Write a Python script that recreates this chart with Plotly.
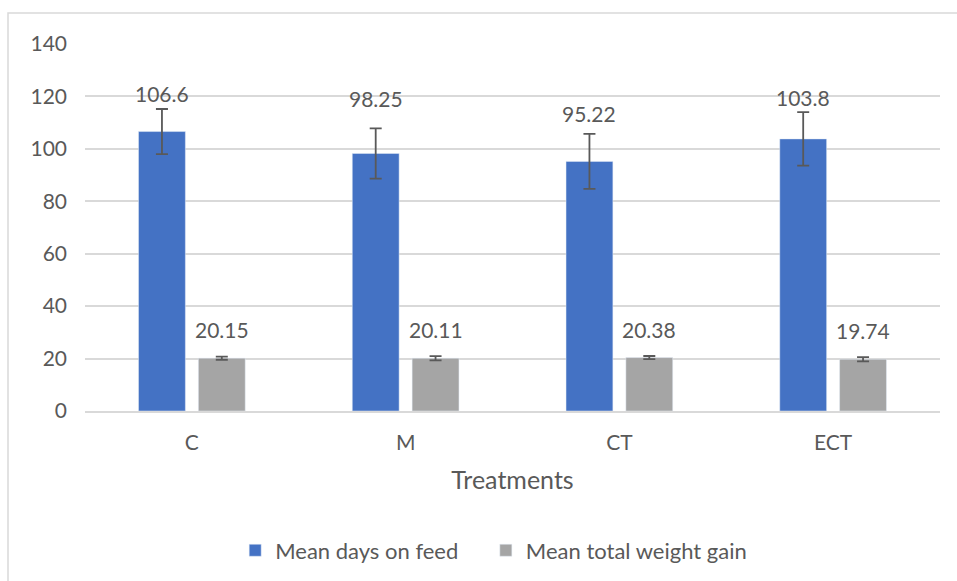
import plotly.graph_objects as go

categories = ["C", "M", "CT", "ECT"]
days_on_feed = [106.6, 98.25, 95.22, 103.8]
days_err = [8.6, 9.6, 10.5, 10.2]
weight_gain = [20.15, 20.11, 20.38, 19.74]
weight_err = [0.6, 0.8, 0.6, 0.8]
days_labels = ["106.6", "98.25", "95.22", "103.8"]
weight_labels = ["20.15", "20.11", "20.38", "19.74"]
y_ticks = [0, 20, 40, 60, 80, 100, 120, 140]

FONT = "Lato"
TXT = "#595959"

fig = go.Figure()
fig.add_trace(go.Bar(
    x=categories, y=days_on_feed, name="Mean days on feed\u00a0\u00a0\u00a0\u00a0",
    marker=dict(color="#4472C4"),
    error_y=dict(type="data", array=days_err, color="#595959", thickness=1.8, width=6),
))
fig.add_trace(go.Bar(
    x=categories, y=weight_gain, name="Mean total weight gain",
    marker=dict(color="#A5A5A5"),
    error_y=dict(type="data", array=weight_err, color="#595959", thickness=1.8, width=6),
))

label_shift_days = [16, 30, 20, 15]
for i, c in enumerate(categories):
    fig.add_annotation(x=c, y=days_on_feed[i] + days_err[i], text=days_labels[i],
                       xref="x", yref="y", showarrow=False, xshift=-30,
                       yshift=label_shift_days[i],
                       font=dict(family=FONT, size=21, color=TXT))
    fig.add_annotation(x=c, y=weight_gain[i] + weight_err[i], text=weight_labels[i],
                       xref="x", yref="y", showarrow=False, xshift=30,
                       yshift=27,
                       font=dict(family=FONT, size=21, color=TXT))

fig.add_shape(type="rect", xref="paper", yref="paper",
              x0=-77/855, x1=1.1, y0=-0.6, y1=(411-13)/367,
              line=dict(color="#D9D9D9", width=1.5), fillcolor="rgba(0,0,0,0)", layer="below")

fig.update_layout(
    width=957, height=581,
    margin=dict(l=85, r=17, t=44, b=170, autoexpand=False),
    paper_bgcolor="white", plot_bgcolor="white",
    barmode="group", bargap=0.44, bargroupgap=0.217,
    font=dict(family=FONT, size=21, color=TXT),
    showlegend=True,
    legend=dict(orientation="h", x=0.478, xanchor="center", y=-0.38, yanchor="middle",
                font=dict(family=FONT, size=22, color=TXT), itemwidth=30,
                traceorder="normal"),
    xaxis=dict(title=dict(text="Treatments", font=dict(family=FONT, size=25, color=TXT), standoff=19),
               automargin=False,
               showgrid=False, showline=True, linecolor="#D9D9D9", linewidth=1.5,
               ticks="", ticklabelstandoff=12,
               tickfont=dict(family=FONT, size=21, color=TXT)),
    yaxis=dict(range=[0, 140], tickvals=y_ticks, showgrid=True, gridcolor="#D9D9D9",
               automargin=False,
               gridwidth=1.5, zeroline=False, showline=False, ticks="",
               ticklabelstandoff=17, tickfont=dict(family=FONT, size=21, color=TXT)),
)

fig.write_html("out.html", config={"displayModeBar": False},
               post_script="document.body.style.margin='0';document.body.style.overflow='hidden';")
